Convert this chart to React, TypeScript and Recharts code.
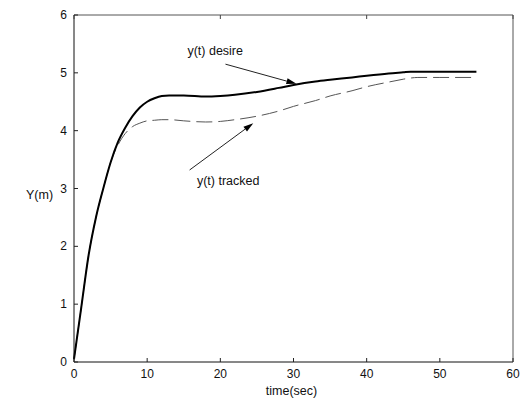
import React from 'react';
import {
  LineChart,
  Line,
  XAxis,
  YAxis,
  ReferenceLine,
  ReferenceDot
} from 'recharts';

// time samples (sec) and the two responses
const timeSec = [0, 1, 2, 3, 4, 5, 6, 7, 8, 9, 10, 11, 12, 13, 15, 18, 20, 22, 25, 28, 30, 33, 35, 38, 40, 43, 45, 46, 47, 50, 55];
const desired = [0.05, 0.95, 1.85, 2.5, 3.0, 3.45, 3.8, 4.05, 4.25, 4.4, 4.5, 4.56, 4.6, 4.61, 4.61, 4.59, 4.6, 4.62, 4.67, 4.74, 4.79, 4.85, 4.88, 4.92, 4.95, 4.99, 5.01, 5.02, 5.02, 5.02, 5.02];
const tracked = [0.05, 0.95, 1.85, 2.5, 3.0, 3.45, 3.75, 3.95, 4.07, 4.13, 4.17, 4.18, 4.19, 4.19, 4.17, 4.15, 4.16, 4.19, 4.25, 4.34, 4.42, 4.52, 4.6, 4.69, 4.76, 4.84, 4.89, 4.91, 4.92, 4.92, 4.92];

const xTicks = [0, 10, 20, 30, 40, 50, 60];
const yTicks = [0, 1, 2, 3, 4, 5, 6];

const data = timeSec.map((t, i) => ({ t, desired: desired[i], tracked: tracked[i] }));

const FONT = '"Liberation Sans", Arial, sans-serif';

const BottomTick = (props: any) => {
  const { x, y, payload } = props;
  return (
    <g>
      <line x1={x} y1={y} x2={x} y2={y - 4} stroke="#222" />
      <text x={x} y={y + 16} textAnchor="middle" fontSize={12} fontFamily={FONT} fill="#111">
        {payload.value}
      </text>
    </g>
  );
};

const LeftTick = (props: any) => {
  const { x, y, payload } = props;
  return (
    <g>
      <line x1={x} y1={y} x2={x + 4} y2={y} stroke="#222" />
      <text x={x - 7} y={y + 4} textAnchor="end" fontSize={12} fontFamily={FONT} fill="#111">
        {payload.value}
      </text>
    </g>
  );
};

const TopTick = (props: any) => {
  const { x, y } = props;
  return <line x1={x} y1={y} x2={x} y2={y + 4} stroke="#444" />;
};

const RightTick = (props: any) => {
  const { x, y } = props;
  return <line x1={x} y1={y} x2={x - 4} y2={y} stroke="#444" />;
};

const Arrow = (props: any) => {
  const { x1, y1, x2, y2 } = props;
  const ang = Math.atan2(y2 - y1, x2 - x1);
  const len = 10;
  const w = 3;
  const bx = x2 - len * Math.cos(ang);
  const by = y2 - len * Math.sin(ang);
  const px = -Math.sin(ang) * w;
  const py = Math.cos(ang) * w;
  return (
    <g>
      <line x1={x1} y1={y1} x2={bx} y2={by} stroke="#222" strokeWidth={1} />
      <polygon points={`${x2},${y2} ${bx + px},${by + py} ${bx - px},${by - py}`} fill="#000" />
    </g>
  );
};

const noteText = (label: string) => (props: any) => (
  <text x={props.cx} y={props.cy} fontSize={12.5} fontFamily={FONT} fill="#111">
    {label}
  </text>
);

export default function App() {
  return (
    <div style={{ position: 'absolute', left: 0, top: 0, background: '#fff' }}>
      <LineChart width={521} height={403} data={data} margin={{ top: 0, right: 0, bottom: 0, left: 0 }}>
        <XAxis
          dataKey="t"
          type="number"
          domain={[0, 60]}
          ticks={xTicks}
          height={41}
          tickSize={0}
          tickMargin={0}
          tick={<BottomTick />}
          axisLine={{ stroke: '#111' }}
          label={{ value: 'time(sec)', position: 'insideBottom', offset: 8, dx: -2, fontSize: 12.5, fontFamily: FONT, fill: '#111' }}
        />
        <XAxis
          xAxisId="top"
          orientation="top"
          type="number"
          domain={[0, 60]}
          ticks={xTicks}
          height={15}
          tickSize={0}
          tickMargin={0}
          tick={<TopTick />}
          axisLine={{ stroke: '#555' }}
        />
        <YAxis
          type="number"
          domain={[0, 6]}
          ticks={yTicks}
          width={74}
          tickSize={0}
          tickMargin={0}
          tick={<LeftTick />}
          axisLine={{ stroke: '#111' }}
          label={{ value: 'Y(m)', position: 'insideLeft', offset: 26, dy: 6, fontSize: 12.5, fontFamily: FONT, fill: '#111' }}
        />
        <YAxis
          yAxisId="right"
          orientation="right"
          type="number"
          domain={[0, 6]}
          ticks={yTicks}
          width={8}
          tickSize={0}
          tickMargin={0}
          tick={<RightTick />}
          axisLine={{ stroke: '#555' }}
        />
        <Line
          type="monotone"
          dataKey="tracked"
          stroke="#555"
          strokeWidth={1}
          strokeDasharray="16 6"
          dot={false}
          isAnimationActive={false}
        />
        <Line
          type="monotone"
          dataKey="desired"
          stroke="#000"
          strokeWidth={2}
          dot={false}
          isAnimationActive={false}
        />
        <ReferenceLine
          segment={[{ x: 20.7, y: 5.15 }, { x: 30.4, y: 4.81 }]}
          shape={<Arrow />}
        />
        <ReferenceLine
          segment={[{ x: 15.8, y: 3.32 }, { x: 24.5, y: 4.13 }]}
          shape={<Arrow />}
        />
        <ReferenceDot x={15.5} y={5.31} r={0} shape={noteText('y(t) desire')} />
        <ReferenceDot x={16.8} y={3.06} r={0} shape={noteText('y(t) tracked')} />
      </LineChart>
    </div>
  );
}
